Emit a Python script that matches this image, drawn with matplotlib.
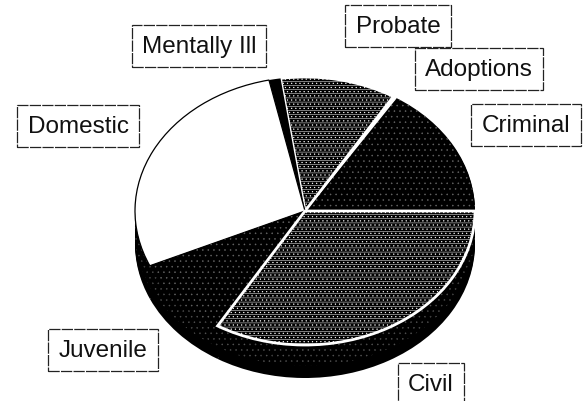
import numpy as np
import matplotlib
matplotlib.use('Agg')
import matplotlib.pyplot as plt

plt.rcParams['font.family'] = ['Liberation Sans', 'DejaVu Sans']
plt.rcParams['hatch.linewidth'] = 0.35

# slice shares, going counterclockwise from 3 o'clock
names = ['Criminal', 'Adoptions', 'Probate', 'Mentally Ill', 'Domestic', 'Juvenile', 'Civil']
shares = [16.0, 0.3, 11.0, 1.1, 28.3, 9.7, 33.6]
fills = ['black', 'white', 'black', 'black', 'white', 'black', 'black']
hatches = ['...', None, '----....', None, None, '...', '----....']
edges = ['#666666', 'white', 'white', 'black', 'black', '#666666', 'white']
widths = [0, 1, 2, 0, 0.9, 0, 2]

# label positions in pixels of the picture
label_x = [526, 479, 398, 199, 78, 103, 431]
label_y = [126, 70, 27, 47, 127, 351, 385]

W, H = 584, 402
cx, cy = 305, 212
rx, ry = 170, 134
depth = 33

fig = plt.figure(figsize=(W / 100, H / 100), dpi=100)
ax = fig.add_axes([0, 0, 1, 1])

# side of the disc, stacked black copies, dotted in its upper part
for d in np.linspace(depth, 1, 17):
    rim = ax.pie(shares, startangle=0, center=(0, -d / ry), colors=['black'] * len(shares),
                 wedgeprops={'linewidth': 0})[0]
    if d <= 21:
        for w in rim:
            w.set_hatch('...')
            w.set_edgecolor('#555555')

top = ax.pie(shares, startangle=0, colors=fills)[0]
for w, h, e, lw in zip(top, hatches, edges, widths):
    w.set_hatch(h)
    w.set_edgecolor(e)
    w.set_linewidth(lw)

ax.set_aspect('auto')
ax.set_xlim(-cx / rx, (W - cx) / rx)
ax.set_ylim(-(H - cy) / ry, cy / ry)
ax.axis('off')

for name, x, y in zip(names, label_x, label_y):
    fig.text(x / W, 1 - y / H, name, fontsize=17.5, color='#111111', ha='center', va='center',
             bbox=dict(boxstyle='square,pad=0.42', fc='white', ec='#222222', lw=0.9,
                       linestyle=(0, (9, 1))))

fig.savefig('out.png', dpi=100, facecolor='white')
